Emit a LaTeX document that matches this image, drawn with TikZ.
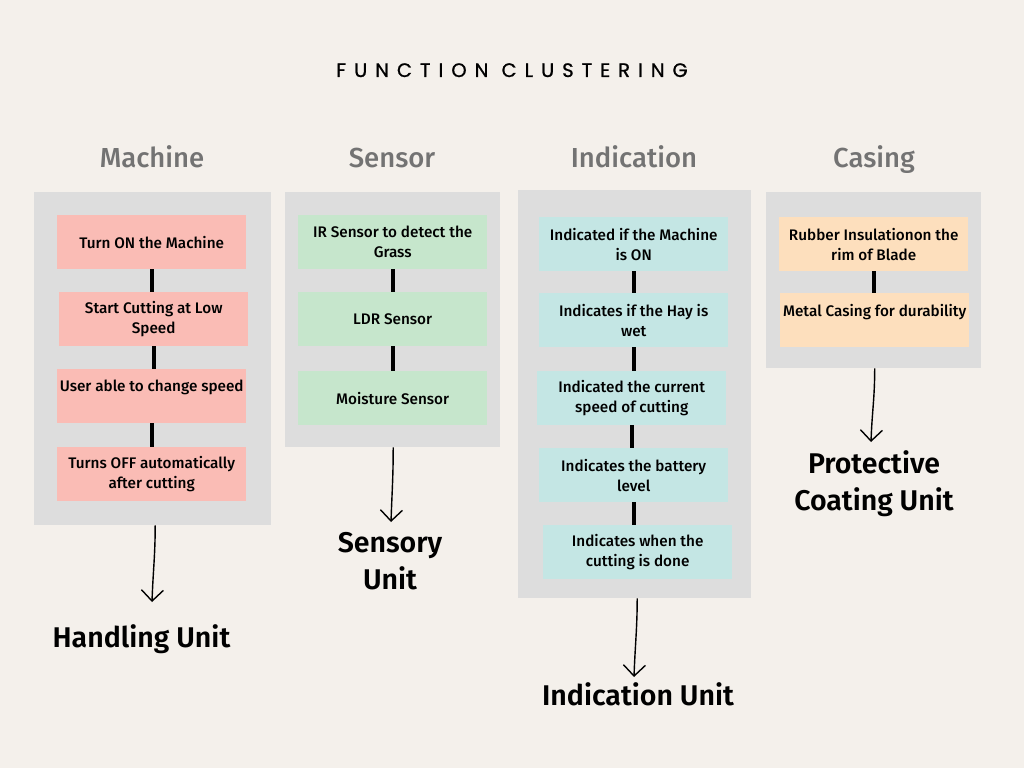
\documentclass[tikz,border=0pt]{standalone}
\usepackage{fontspec}
\usetikzlibrary{arrows.meta}
\setmainfont{Fira Sans}[BoldFont={Fira Sans SemiBold}]
\newfontfamily\medfont{Fira Sans Medium}
\newfontfamily\titlefont{Poppins}[LetterSpace=41,FakeBold=1]
\definecolor{bgc}{HTML}{F4F0EB}
\definecolor{panelc}{HTML}{DDDDDD}
\definecolor{pinkc}{HTML}{FABCB5}
\definecolor{greenc}{HTML}{C6E6CC}
\definecolor{tealc}{HTML}{C4E6E4}
\definecolor{peachc}{HTML}{FDDFBD}
\definecolor{headc}{HTML}{737373}
\begin{document}
\begin{tikzpicture}[x=1pt,y=-1pt,
  panel/.style={fill=panelc, draw=none, anchor=north west, inner sep=0pt},
  itembox/.style={draw=none, anchor=north west, minimum width=189pt, minimum height=54pt, inner sep=0pt, align=center, font=\medfont\fontsize{15.3}{20}\selectfont},
  head/.style={text=headc, anchor=base, font=\medfont\fontsize{27.5}{30}\selectfont},
  unit/.style={align=center, font=\bfseries\fontsize{28.5}{37}\selectfont},
  link/.style={line width=4pt, black},
  hand/.style={line width=1.4pt, black, -{Straight Barb[length=11pt,width=22pt,line width=1.4pt]}}
]
\fill[bgc] (0,0) rectangle (1024,768);
\useasboundingbox (0,0) rectangle (1024,768);

\node[anchor=base, font=\titlefont\fontsize{19.5}{20}\selectfont] (title) at (512,77) {FUNCTION CLUSTERING};

\node[head] (hm) at (152,167) {Machine};
\node[head] (hs) at (392,167) {Sensor};
\node[head] (hi) at (634,167) {Indication};
\node[head] (hc) at (874,167) {Casing};

\node[panel, minimum width=237pt, minimum height=333pt] (pm) at (34,192) {};
\node[panel, minimum width=215pt, minimum height=255pt] (ps) at (285,192) {};
\node[panel, minimum width=233pt, minimum height=408pt] (pi) at (518,190) {};
\node[panel, minimum width=215pt, minimum height=176pt] (pc) at (766,192) {};

% Machine
\node[itembox, fill=pinkc] (m1) at (57,215) {Turn ON the Machine};
\node[itembox, fill=pinkc] (m2) at (59,292) {Start Cutting at Low\\Speed};
\node[itembox, fill=pinkc] (m3) at (57,369) {User able to change speed\\\mbox{}};
\node[itembox, fill=pinkc] (m4) at (57,447) {Turns OFF automatically\\after cutting};
\draw[link] (m1.south) -- (m1.south |- m2.north);
\draw[link] (m2.south) -- (m2.south |- m3.north);
\draw[link] (m3.south) -- (m3.south |- m4.north);

% Sensor
\node[itembox, fill=greenc] (s1) at (298,215) {IR Sensor to detect the\\Grass};
\node[itembox, fill=greenc] (s2) at (298,292) {LDR Sensor};
\node[itembox, fill=greenc] (s3) at (298,371) {Moisture Sensor};
\draw[link] (s1.south) -- (s1.south |- s2.north);
\draw[link] (s2.south) -- (s2.south |- s3.north);

% Indication
\node[itembox, fill=tealc] (i1) at (539,217) {Indicated if the Machine\\is ON};
\node[itembox, fill=tealc] (i2) at (539,293) {Indicates if the Hay is\\wet};
\node[itembox, fill=tealc] (i3) at (537,371) {Indicated the current\\speed of cutting};
\node[itembox, fill=tealc] (i4) at (539,448) {Indicates the battery\\level};
\node[itembox, fill=tealc] (i5) at (543,525) {Indicates when the\\cutting is done};
\draw[link] (i1.south) -- (i1.south |- i2.north);
\draw[link] (i2.south) -- (i2.south |- i3.north);
\draw[link] (i3.south) -- (i3.south |- i4.north);
\draw[link] (i4.south) -- (i4.south |- i5.north);

% Casing
\node[itembox, fill=peachc] (c1) at (779,217) {Rubber Insulationon the\\rim of Blade};
\node[itembox, fill=peachc] (c2) at (780,293) {Metal Casing for durability\\\mbox{}};
\draw[link] (c1.south) -- (c1.south |- c2.north);

% Units
\node[unit, anchor=base] (um) at (141.5,647) {Handling Unit};
\node[unit] (us) at (390,561) {Sensory\\Unit};
\node[unit, anchor=base] (ui) at (638,705) {Indication Unit};
\node[unit] (uc) at (874,484) {Protective\\Coating Unit};

\coordinate (tm) at (152,602);
\coordinate (ts) at (391,522);
\coordinate (ti) at (634,677);
\coordinate (tc) at (871,442);
\draw[hand] ([xshift=2.5pt]pm.south) .. controls +(0,30) and +(1,-30) .. (tm);
\draw[hand] ([xshift=0.5pt]ps.south) .. controls +(0,30) and +(1,-30) .. (ts);
\draw[hand] ([xshift=2.5pt]pi.south) .. controls +(0,30) and +(1,-30) .. (ti);
\draw[hand] ([xshift=1pt]pc.south) .. controls +(0,30) and +(1,-30) .. (tc);
\end{tikzpicture}
\end{document}
